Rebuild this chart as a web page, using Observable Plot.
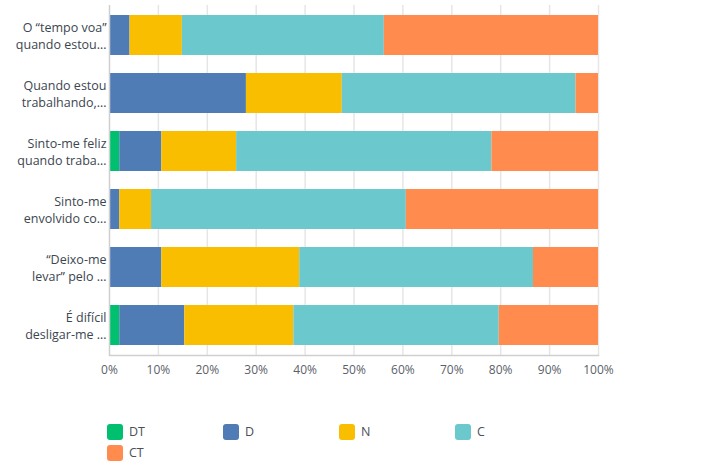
<!DOCTYPE html>
<html>
<head>
<meta charset="utf-8">
<script src="https://cdn.jsdelivr.net/npm/d3@7"></script>
<script src="https://cdn.jsdelivr.net/npm/@observablehq/plot@0.6"></script>
<style>
  body { margin: 0; background: #fff; font-family: "Open Sans", sans-serif; }
  #legend { position: relative; height: 60px; margin-top: 25px; }
  .item { position: absolute; display: flex; align-items: center; font-size: 12.5px; color: #4a5058; }
  .sw { width: 16px; height: 16px; border-radius: 3px; margin-right: 6px; }
</style>
</head>
<body>
<div id="chart"></div>
<div id="legend"></div>
<script>
const categories = [
  "O “tempo voa”\nquando estou…",
  "Quando estou\ntrabalhando,…",
  "Sinto-me feliz\nquando traba…",
  "Sinto-me\nenvolvido co…",
  "“Deixo-me\nlevar” pelo …",
  "É difícil\ndesligar-me …"
];
const series = ["DT", "D", "N", "C", "CT"];
const colors = ["#00BF6F", "#507CB6", "#F9BE00", "#6BC8CD", "#FF8B4F"];
const DT = [0, 0, 2.1, 0, 0, 2.1];
const D  = [4.2, 28.0, 8.6, 2.1, 10.7, 13.3];
const N  = [10.7, 19.6, 15.3, 6.5, 28.2, 22.3];
const C  = [41.3, 47.8, 52.2, 52.1, 47.8, 42.0];
const CT = [43.8, 4.6, 21.8, 39.3, 13.3, 20.3];
const xTicks = [0, 10, 20, 30, 40, 50, 60, 70, 80, 90, 100];

const valuesBySeries = {DT, D, N, C, CT};
const table = [];
categories.forEach((cat, i) => {
  series.forEach(s => table.push({category: cat, series: s, value: valuesBySeries[s][i]}));
});

const chart = Plot.plot({
  width: 720,
  height: 398,
  marginTop: 5,
  marginBottom: 43,
  marginLeft: 109,
  marginRight: 122,
  style: {fontFamily: "Open Sans, sans-serif", background: "#fff"},
  x: {domain: [0, 100]},
  y: {domain: categories, paddingInner: 0.315, paddingOuter: 0.1575},
  color: {domain: series, range: colors},
  marks: [
    Plot.gridX(xTicks.filter(d => d > 0), {stroke: "#e6e6e6", strokeOpacity: 1, strokeWidth: 1.5}),
    Plot.barX(table, {x: "value", y: "category", fill: "series", order: series}),
    Plot.ruleX([0], {stroke: "#cfcfcf", strokeWidth: 1.5}),
    Plot.frame({anchor: "bottom", stroke: "#cfcfcf", strokeWidth: 1.5}),
    Plot.axisX({ticks: xTicks, tickFormat: d => d + "%", tickSize: 0, tickPadding: 10, fontSize: 12, color: "#5b6169", label: null}),
    Plot.axisY({tickSize: 0, tickPadding: 3, fontSize: 12.5, lineHeight: 1.35, color: "#3c4650", label: null})
  ]
});
document.getElementById("chart").appendChild(chart);

const legend = document.getElementById("legend");
series.forEach((s, i) => {
  const it = document.createElement("div");
  it.className = "item";
  const col = i % 4, row = Math.floor(i / 4);
  it.style.left = (107 + col * 116) + "px";
  it.style.top = (row * 21) + "px";
  const sw = document.createElement("div");
  sw.className = "sw";
  sw.style.background = colors[i];
  it.appendChild(sw);
  const t = document.createElement("span");
  t.textContent = s;
  it.appendChild(t);
  legend.appendChild(it);
});
</script>
</body>
</html>
